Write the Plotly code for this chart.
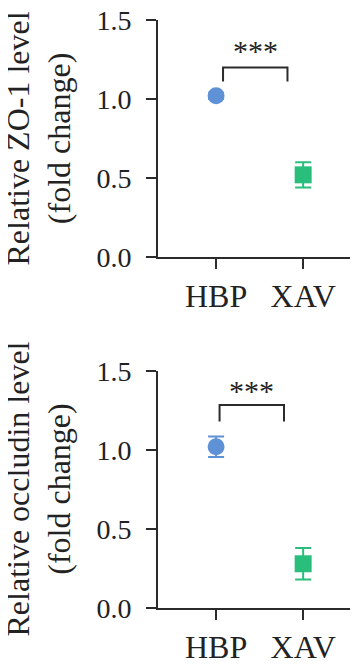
import plotly.graph_objects as go
from plotly.subplots import make_subplots

groups = ["HBP", "XAV"]
zo1_mean = [1.02, 0.52]
zo1_err = [0.02, 0.08]
occ_mean = [1.02, 0.28]
occ_err = [0.065, 0.10]
y_ticks = [0.0, 0.5, 1.0, 1.5]
y_ticklabels = ["0.0", "0.5", "1.0", "1.5"]
titles = ["Relative ZO-1 level<br>(fold change)", "Relative occludin level<br>(fold change)"]
# significance brackets: [x_left, x_right, y_top, y_bottom, star_y]
brk_zo1 = [0.08, 0.82, 1.20, 1.11, 1.305]
brk_occ = [0.04, 0.78, 1.285, 1.18, 1.375]

colors = ["rgb(95,145,214)", "rgb(42,190,124)"]
symbols = ["circle", "square"]
FONT = "'Times New Roman', 'Liberation Serif', 'DejaVu Serif', serif"
AX = "#2b2b2b"

# page has an 8px body margin, so the figure is 8px smaller and offset
OFF = 8
W, H = 358 - OFF, 672 - OFF
def py(p):
    return (H - (p - OFF)) / H

fig = make_subplots(rows=2, cols=1)
dom_top = [py(257), py(20)]
dom_bot = [py(608), py(371)]
xdom = [(158 - OFF) / W, 1.0]

for row, (means, errs) in enumerate([(zo1_mean, zo1_err), (occ_mean, occ_err)], start=1):
    for i, g in enumerate(groups):
        fig.add_trace(go.Scatter(
            x=[g], y=[means[i]], mode="markers",
            marker=dict(symbol=symbols[i], size=17, color=colors[i], line=dict(width=0)),
            error_y=dict(type="data", array=[errs[i]], color=colors[i], thickness=2, width=8),
            showlegend=False), row=row, col=1)

for ax_i, dom in [(1, dom_top), (2, dom_bot)]:
    fig.update_yaxes(row=ax_i, col=1, domain=dom, range=[0, 1.5], tickvals=y_ticks,
                     ticktext=y_ticklabels, ticks="outside", ticklen=10, tickwidth=2,
                     tickcolor=AX, showline=True, linecolor=AX, linewidth=2,
                     showgrid=False, zeroline=False, ticklabelstandoff=9, automargin=False,
                     ticklabeloverflow="allow",
                     tickfont=dict(family=FONT, size=28, color="#222"))
    fig.update_xaxes(row=ax_i, col=1, domain=xdom, range=[-0.667, 1.63],
                     type="category", categoryarray=groups,
                     ticks="outside", ticklen=10, tickwidth=2, tickcolor=AX,
                     showline=True, linecolor=AX, linewidth=2, showgrid=False,
                     zeroline=False, ticklabelstandoff=0, automargin=False,
                     ticklabeloverflow="allow",
                     tickfont=dict(family=FONT, size=32, color="#222"))

for ax_i, brk, title, dom in [(1, brk_zo1, titles[0], dom_top), (2, brk_occ, titles[1], dom_bot)]:
    xr = "x" if ax_i == 1 else "x2"
    yr = "y" if ax_i == 1 else "y2"
    xl, xrr, yt, yb, sy = brk
    fig.add_shape(type="path", xref=xr, yref=yr,
                  path=f"M {xl} {yb} L {xl} {yt} L {xrr} {yt} L {xrr} {yb}",
                  line=dict(color=AX, width=2))
    fig.add_annotation(x=(xl + xrr) / 2, y=sy, xref=xr, yref=yr, text="***",
                       showarrow=False, font=dict(family=FONT, size=30, color="#222"),
                       xanchor="center", yanchor="middle")
    fig.add_annotation(x=(38 - OFF) / W, y=(dom[0] + dom[1]) / 2, xref="paper", yref="paper",
                       text=title, textangle=-90, showarrow=False, borderpad=0,
                       font=dict(family=FONT, size=32, color="#222"),
                       xanchor="center", yanchor="middle")

fig.update_layout(width=W, height=H, margin=dict(l=0, r=0, t=0, b=0),
                  font=dict(family=FONT),
                  plot_bgcolor="white", paper_bgcolor="white")
fig.write_html("out.html")
